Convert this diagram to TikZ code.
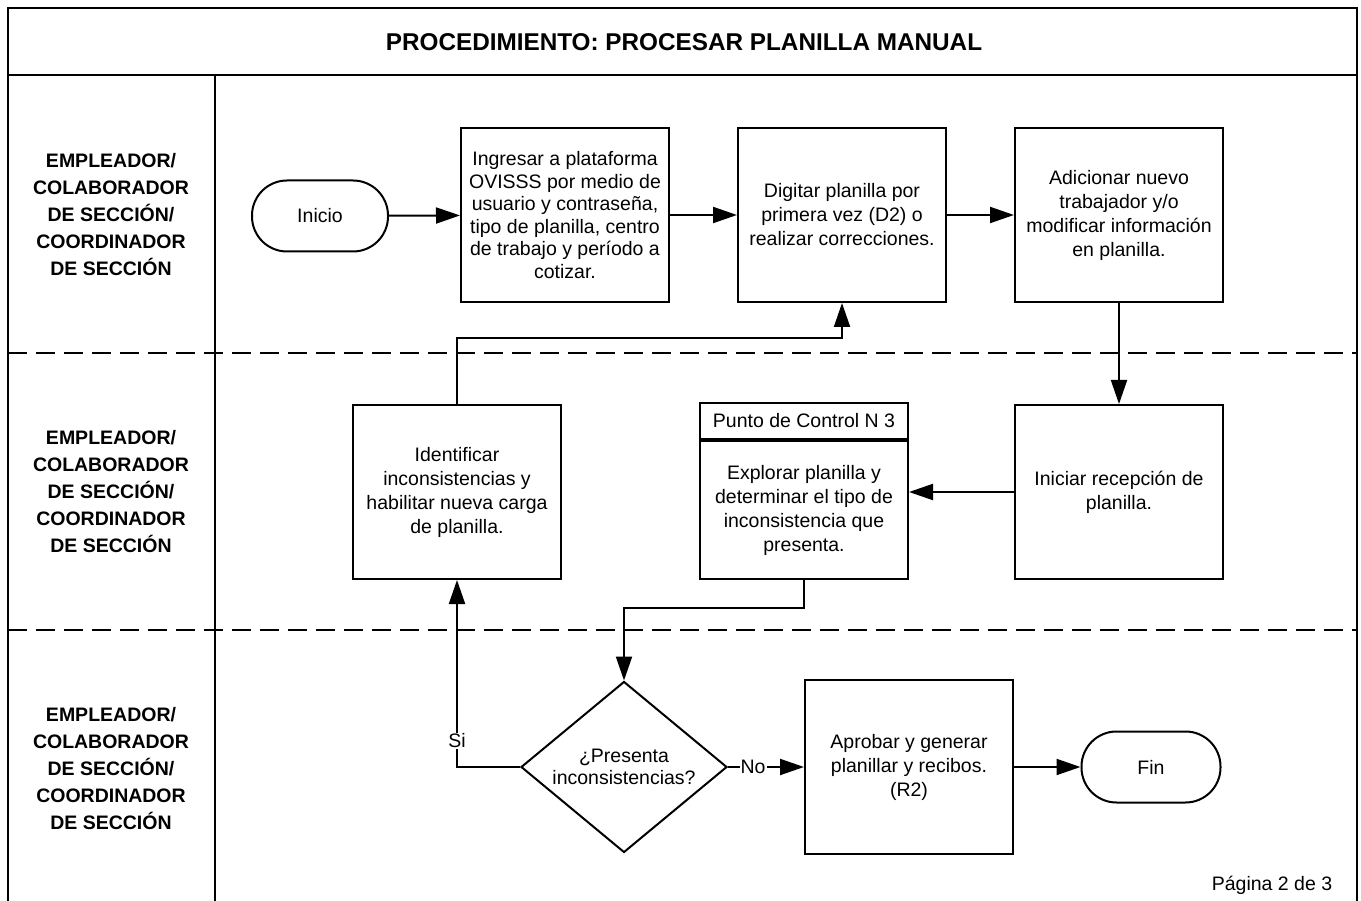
\documentclass[tikz,border=0pt]{standalone}
\usepackage{fontspec}
\setmainfont{Liberation Sans}
\usetikzlibrary{positioning, shapes.geometric, arrows.meta, calc}

\begin{document}
\begin{tikzpicture}[x=1pt, y=-1pt, line width=2pt,
    txt/.style={font=\fontsize{19.5}{24}\selectfont, align=center},
    proc/.style={draw, txt, minimum width=208pt, minimum height=174pt, inner sep=0pt},
    term/.style={draw, txt, rounded corners=35pt, minimum width=136pt, minimum height=71pt},
    decision/.style={draw, diamond, minimum width=206pt, minimum height=171pt, inner sep=0pt},
    lane/.style={font=\fontsize{19.5}{27}\selectfont\bfseries, align=center},
    flow/.style={-{Triangle[length=24pt,width=16pt]}},
    lanesep/.style={dash pattern=on 19pt off 9pt},
    answer/.style={fill=white, inner sep=1pt, font=\fontsize{19.5}{24}\selectfont}]
            \useasboundingbox (0,0) rectangle (1361,901);

            % marco y carriles
            \draw (8,901) -- (8,8) -- (1357,8) -- (1357,901);
            \draw (8,75) -- (1357,75);
            \draw (215,75) -- (215,901);
            \draw[lanesep] (8,353) -- (1357,353);
            \draw[lanesep] (8,630) -- (1357,630);

            \node[font=\fontsize{24.3}{28}\selectfont\bfseries] (titulo) at (684,42) {PROCEDIMIENTO: PROCESAR PLANILLA MANUAL};
            \node[lane] (laneA) at (111,215) {EMPLEADOR/\\COLABORADOR\\DE SECCIÓN/\\COORDINADOR\\DE SECCIÓN};
            \node[lane] (laneB) at (111,492) {EMPLEADOR/\\COLABORADOR\\DE SECCIÓN/\\COORDINADOR\\DE SECCIÓN};
            \node[lane] (laneC) at (111,769) {EMPLEADOR/\\COLABORADOR\\DE SECCIÓN/\\COORDINADOR\\DE SECCIÓN};

            % pasos
            \node[term] (inicio) at (320,216) {Inicio};
            \node[proc, font=\fontsize{19.5}{22.5}\selectfont] (ingresar) at (565,215) {Ingresar a plataforma\\OVISSS por medio de\\usuario y contraseña,\\tipo de planilla, centro\\de trabajo y período a\\cotizar.};
            \node[proc] (digitar) at (842,215) {Digitar planilla por\\primera vez (D2) o\\realizar correcciones.};
            \node[proc] (adicionar) at (1119,215) {Adicionar nuevo\\trabajador y/o\\modificar información\\en planilla.};
            \node[proc] (iniciar) at (1119,492) {Iniciar recepción de\\planilla.};
            \node[proc, minimum height=138pt] (explora) at (804,510) {Explorar planilla y\\determinar el tipo de\\inconsistencia que\\presenta.};
            \node[proc, minimum height=36pt, above=0pt of explora] (punto) {Punto de Control N 3};
            \node[proc] (identificar) at (457,492) {Identificar\\inconsistencias y\\habilitar nueva carga\\de planilla.};
            \node[decision, label={[txt, font=\fontsize{19.5}{22}\selectfont]center:¿Presenta\\inconsistencias?}] (presenta) at (624,767) {};
            \node[proc] (aprobar) at (909,767) {Aprobar y generar\\planillar y recibos.\\(R2)};
            \node[term, minimum width=139pt] (fin) at (1151,767) {Fin};

            \node[txt] (pagina) at (1272,885) {Página 2 de 3};

            % conectores
            \draw[flow] (inicio) -- (ingresar);
            \draw[flow] (ingresar) -- (digitar);
            \draw[flow] (digitar) -- (adicionar);
            \draw[flow] (adicionar) -- (iniciar);
            \draw[flow] (iniciar.west) -- (iniciar.west -| explora.east);
            \draw[flow] (explora.south) -- ++(0,28) -| (presenta.north);
            \draw[flow] (presenta.west) -| node[answer, pos=0.57] {Si} (identificar.south);
            \draw[flow] (identificar.north) -- ++(0,-66) -| (digitar.south);
            \draw[flow] (presenta.east) -- node[answer, pos=0.33] {No} (aprobar.west);
            \draw[flow] (aprobar) -- (fin);
        \end{tikzpicture}
\end{document}
